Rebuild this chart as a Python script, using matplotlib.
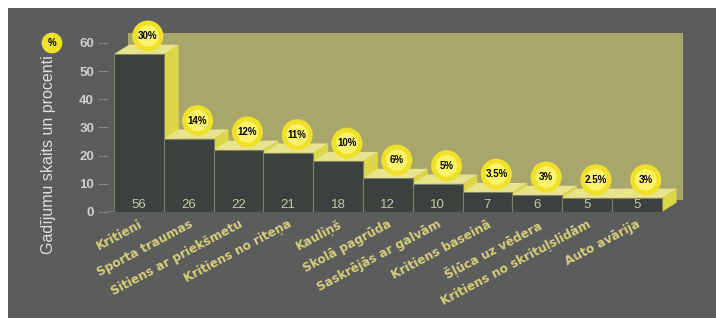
import numpy as np
import matplotlib.pyplot as plt
from matplotlib.patches import Rectangle, Polygon

plt.rcParams['font.family'] = ['Liberation Sans', 'DejaVu Sans']

categories = ['Kritieni', 'Sporta traumas', 'Sitiens ar priekšmetu', 'Kritiens no riteņa',
              'Kauliņš', 'Skolā pagrūda', 'Saskrējās ar galvām', 'Kritiens baseinā',
              'Šļūca uz vēdera', 'Kritiens no skrituļslidām', 'Auto avārija']
counts = [56, 26, 22, 21, 18, 12, 10, 7, 6, 5, 5]
percents = ['30%', '14%', '12%', '11%', '10%', '6%', '5%', '3.5%', '3%', '2.5%', '3%']
yticks = [0, 10, 20, 30, 40, 50, 60]

W, H = 716, 322
bg = '#5b5d5d'
wall = '#a9a66c'
front = '#3a4140'
topc = '#e8e48e'
sidec = '#dcd746'
lblc = '#d6ce7a'

fig = plt.figure(figsize=(W / 100, H / 100), dpi=100)
fig.patch.set_facecolor('white')
fig.add_artist(Rectangle((8 / W, 4 / H), 1, 1 - 12 / H, transform=fig.transFigure,
                         fc=bg, ec='none', zorder=0))

ax = fig.add_axes([108 / W, (H - 212) / H, 592 / W, 192 / H])
ax.set_facecolor('none')
ax.set_xlim(-0.62, 11.27)
ax.set_ylim(0, 68.1)
for s in ax.spines.values():
    s.set_visible(False)

# 3d depth in data units
dx, dy = 0.30, 3.3

ax.add_patch(Rectangle((-0.22, 4.3), 11.14, 59.2, fc=wall, ec='none', zorder=0))
ax.plot([-0.62, 10.5], [0, 0], color='#7c7e7e', lw=1.2, zorder=1)

x = np.arange(len(counts))
for i, h in enumerate(counts):
    l, r = i - 0.5, i + 0.5
    ax.add_patch(Polygon([(r, 0), (r + dx, dy), (r + dx, h + dy), (r, h)],
                         closed=True, fc=sidec, ec='none', zorder=2))
    ax.add_patch(Polygon([(l, h), (r, h), (r + dx, h + dy), (l + dx, h + dy)],
                         closed=True, fc=topc, ec='none', zorder=2.5))
ax.bar(x, counts, width=1.0, color=front, edgecolor='#7f8060', linewidth=0.8, zorder=3)

for i, h in enumerate(counts):
    ax.text(i, 2.6, str(h), color='#c9c6a2', fontsize=9.5, ha='center', va='center', zorder=4)

cy = np.array(counts) + 6.4
ax.scatter(x + 0.18, cy, s=500, color='#efe02a', edgecolor='none', zorder=5)
ax.scatter(x + 0.18, cy, s=240, color='#fbf36a', edgecolor='none', zorder=5)
for i, p in enumerate(percents):
    ax.text(i + 0.18, cy[i], p, fontsize=7, fontweight='bold', color='black',
            ha='center', va='center', zorder=6)

ax.set_yticks(yticks)
ax.set_yticklabels([str(v) for v in yticks], color='#cfcfcf', fontsize=9.5, fontweight='bold')
ax.tick_params(axis='y', length=7, color='#858787', pad=3)
ax.set_xticks(x)
ax.set_xticklabels(categories, rotation=28, ha='right', va='top', rotation_mode='anchor',
                   color=lblc, fontsize=8.7, fontweight='bold', family='DejaVu Sans')
ax.tick_params(axis='x', length=0, pad=4)

fig.text(49 / W, 1 - 155 / H, 'Gadījumu skaits un procenti', rotation=90, ha='center',
         va='center', color='#dedede', fontsize=11.5)
fig.text(52 / W, 1 - 43 / H, '%', ha='center', va='center', fontsize=7, fontweight='bold',
         color='black', bbox=dict(boxstyle='circle,pad=0.55', fc='#efe02a', ec='none'))

fig.savefig('out.png', dpi=100, facecolor=fig.get_facecolor())
